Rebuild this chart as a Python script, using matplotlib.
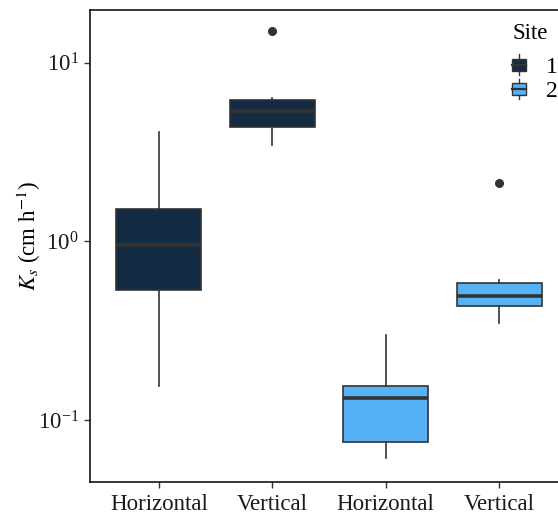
import matplotlib
matplotlib.use('Agg')
import matplotlib.pyplot as plt
import matplotlib as mpl
from matplotlib.patches import Rectangle
from matplotlib.lines import Line2D
from matplotlib.legend_handler import HandlerBase

mpl.rcParams.update({
    'font.family': 'serif',
    'font.serif': ['Liberation Serif', 'DejaVu Serif'],
    'mathtext.fontset': 'stix',
    'font.size': 16.5,
})

# data (cm/h)
CATEGORIES = ['Horizontal', 'Vertical', 'Horizontal', 'Vertical']
SITES = [1, 1, 2, 2]
WHISK_LO = [0.156, 3.47, 0.0616, 0.348]
Q1 = [0.535, 4.37, 0.0756, 0.436]
MEDIAN = [0.96, 5.37, 0.1334, 0.496]
Q3 = [1.51, 6.18, 0.1556, 0.586]
WHISK_HI = [4.10, 6.37, 0.299, 0.608]
OUTLIERS = [[], [15.1], [], [2.13]]

SITE_COLORS = {1: '#132B43', 2: '#56B1F7'}
EDGE = '#333333'


class BoxKey(HandlerBase):
    # small boxplot glyph like the ggplot legend key
    def create_artists(self, legend, orig_handle, xdescent, ydescent,
                       width, height, fontsize, trans):
        cx = width / 2 - xdescent
        bh = height * 0.58
        y0 = (height - bh) / 2 - ydescent
        w = (height - bh) / 2
        box = Rectangle((-xdescent, y0), width, bh,
                        facecolor=orig_handle.get_facecolor(),
                        edgecolor=EDGE, linewidth=1.0, transform=trans)
        med = Line2D([-xdescent, width - xdescent], [y0 + bh / 2] * 2,
                     color=EDGE, linewidth=1.6, transform=trans)
        wl = Line2D([cx, cx], [y0 - w, y0], color=EDGE, lw=1.0, transform=trans)
        wh = Line2D([cx, cx], [y0 + bh, y0 + bh + w], color=EDGE, lw=1.0,
                    transform=trans)
        return [box, med, wl, wh]


fig = plt.figure(figsize=(5.58, 5.17), dpi=100)
ax = fig.add_axes([90 / 558, 1 - 482 / 517, 478 / 558, 472 / 517])

stats = []
for i in range(len(CATEGORIES)):
    stats.append({
        'whislo': WHISK_LO[i], 'q1': Q1[i], 'med': MEDIAN[i],
        'q3': Q3[i], 'whishi': WHISK_HI[i], 'fliers': OUTLIERS[i],
    })

positions = list(range(1, len(CATEGORIES) + 1))
bp = ax.bxp(stats, positions=positions, widths=0.75, patch_artist=True,
            showcaps=False,
            boxprops=dict(edgecolor=EDGE, linewidth=1.2),
            whiskerprops=dict(color=EDGE, linewidth=1.2),
            medianprops=dict(color=EDGE, linewidth=2.6),
            flierprops=dict(marker='o', markerfacecolor=EDGE,
                            markeredgecolor=EDGE, markersize=5.5))
for patch, s in zip(bp['boxes'], SITES):
    patch.set_facecolor(SITE_COLORS[s])

ax.set_yscale('log')
ax.set_ylim(0.0451, 19.7)
ax.set_xlim(0.392, 4.608)
ax.yaxis.set_minor_locator(mpl.ticker.NullLocator())
ax.set_xticks(positions)
ax.set_xticklabels(CATEGORIES)
ax.tick_params(axis='both', direction='out', length=4, width=1,
               color='#333333', labelcolor='#1a1a1a', pad=4)
ax.tick_params(axis='x', pad=5)
ax.set_ylabel(r'$K_s$ (cm h$^{-1}$)')
ax.yaxis.set_label_coords(-0.099, 0.52)

for sp in ax.spines.values():
    sp.set_linewidth(1.1)
    sp.set_color('black')

handles = [Rectangle((0, 0), 1, 1, facecolor=SITE_COLORS[s]) for s in (1, 2)]
leg = fig.legend(handles, ['1', '2'], title='Site', loc='upper left',
                 bbox_to_anchor=(512 / 558, 1 - 23 / 517), frameon=False,
                 handler_map={Rectangle: BoxKey()}, handlelength=0.58,
                 handleheight=0.95, handletextpad=0.87, labelspacing=0.05,
                 borderaxespad=0, borderpad=0, fontsize=17,
                 title_fontsize=16.5)
leg._legend_box.align = 'left'
leg._legend_box.sep = 7.5  # gap between title and keys

fig.savefig('out.png', dpi=100)
